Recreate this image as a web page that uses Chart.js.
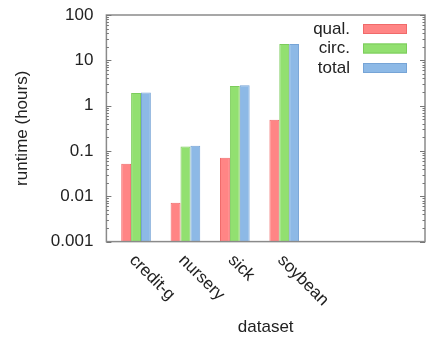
<!DOCTYPE html>
<html>
<head>
<meta charset="utf-8">
<script src="https://cdn.jsdelivr.net/npm/chart.js@4/dist/chart.umd.min.js"></script>
<style>
  html, body { margin: 0; padding: 0; background: #fff; }
  #wrap { width: 427px; height: 338px; }
</style>
</head>
<body>
<div id="wrap"><canvas id="runtime"></canvas></div>
<script>
// datasets on the x axis
var datasetNames = ['credit-g', 'nursery', 'sick', 'soybean'];

// runtime in hours
var qualHours  = [0.052, 0.0072, 0.071, 0.49];
var circHours  = [1.9, 0.125, 2.7, 23];
var totalHours = [1.95, 0.13, 2.8, 23];

var seriesLabels = ['qual.', 'circ.', 'total'];
var yTickValues = [0.001, 0.01, 0.1, 1, 10, 100];
var yTickLabels = ['0.001', '0.01', '0.1', '1', '10', '100'];

var FONT = 'Liberation Sans, Arial, Helvetica, sans-serif';
var FS = 17;

function points(vals) {
  var out = [];
  for (var i = 0; i < vals.length; i++) out.push({ x: i, y: vals[i] });
  return out;
}

// box, inward ticks, tick labels and the legend (gnuplot look)
var gnuplotBits = {
  id: 'gnuplotBits',
  afterDraw: function (chart) {
    var ctx = chart.ctx;
    var a = chart.chartArea;
    var ys = chart.scales.y;
    var xs = chart.scales.x;
    ctx.save();

    // frame
    ctx.strokeStyle = '#8a8a8a';
    ctx.lineWidth = 1.5;
    ctx.strokeRect(a.left, a.top, a.right - a.left, a.bottom - a.top);

    // y ticks on both sides, pointing in
    ctx.strokeStyle = '#777';
    ctx.lineWidth = 1;
    for (var p = -3; p <= 2; p++) {
      for (var m = 1; m <= 9; m++) {
        var v = m * Math.pow(10, p);
        if (v > 100.0001) continue;
        var py = Math.round(ys.getPixelForValue(v)) + 0.5;
        var len = m === 1 ? 5 : 2.5;
        ctx.beginPath();
        ctx.moveTo(a.left, py); ctx.lineTo(a.left + len, py);
        ctx.moveTo(a.right, py); ctx.lineTo(a.right - len, py);
        ctx.stroke();
      }
    }

    ctx.fillStyle = '#222';
    ctx.font = FS + 'px ' + FONT;

    // y tick labels
    ctx.textAlign = 'right';
    ctx.textBaseline = 'middle';
    for (var t = 0; t < yTickValues.length; t++) {
      ctx.fillText(yTickLabels[t], a.left - 13, ys.getPixelForValue(yTickValues[t]));
    }

    // category names, rotated down to the right
    ctx.textAlign = 'left';
    for (var i = 0; i < datasetNames.length; i++) {
      var px = xs.getPixelForValue(i);
      ctx.save();
      ctx.translate(px - 4, a.bottom + 16);
      ctx.rotate(Math.PI / 4);
      ctx.fillText(datasetNames[i], 0, 0);
      ctx.restore();
    }

    // legend: text on the left, swatch on the right
    var ds = chart.data.datasets;
    ctx.textAlign = 'right';
    for (var k = 0; k < ds.length; k++) {
      var ly = 29 + k * 19.5;
      ctx.fillStyle = '#222';
      ctx.fillText(ds[k].label, 350, ly);
      ctx.fillStyle = ds[k].backgroundColor;
      ctx.fillRect(363, ly - 5, 44, 10);
      ctx.strokeStyle = ds[k].borderColor;
      ctx.strokeRect(363.5, ly - 4.5, 43, 9);
    }
    ctx.restore();
  }
};

new Chart(document.getElementById('runtime'), {
  type: 'bar',
  data: {
    datasets: [
      { label: seriesLabels[0], data: points(qualHours),  backgroundColor: '#ff8585', borderColor: '#f06a6a', borderWidth: 1 },
      { label: seriesLabels[1], data: points(circHours),  backgroundColor: '#92e070', borderColor: '#7ccc5c', borderWidth: 1 },
      { label: seriesLabels[2], data: points(totalHours), backgroundColor: '#8db9e6', borderColor: '#76a4d6', borderWidth: 1 }
    ]
  },
  options: {
    responsive: true,
    maintainAspectRatio: false,
    animation: false,
    layout: { padding: { left: 4, right: 2, top: 15, bottom: 0 } },
    datasets: { bar: { categoryPercentage: 0.6, barPercentage: 1.0 } },
    plugins: { legend: { display: false }, tooltip: { enabled: false } },
    scales: {
      x: {
        type: 'linear',
        offset: false,
        min: -0.6,
        max: 5.85,
        afterBuildTicks: function (scale) {
          scale.ticks = datasetNames.map(function (n, i) { return { value: i }; });
        },
        grid: { display: false, drawTicks: false, tickLength: 0 },
        border: { display: false },
        ticks: { display: false },
        title: {
          display: true,
          text: 'dataset',
          color: '#222',
          font: { family: FONT, size: FS },
          padding: { top: 76, bottom: 0 }
        }
      },
      y: {
        type: 'logarithmic',
        min: 0.001,
        max: 100,
        grid: { display: false, drawTicks: false, tickLength: 0 },
        border: { display: false },
        afterBuildTicks: function (scale) {
          scale.ticks = yTickValues.map(function (v) { return { value: v }; });
        },
        ticks: { display: false },
        title: {
          display: true,
          text: 'runtime (hours)',
          color: '#222',
          font: { family: FONT, size: FS },
          padding: { top: 8, bottom: 74 }
        }
      }
    }
  },
  plugins: [gnuplotBits]
});
</script>
</body>
</html>
